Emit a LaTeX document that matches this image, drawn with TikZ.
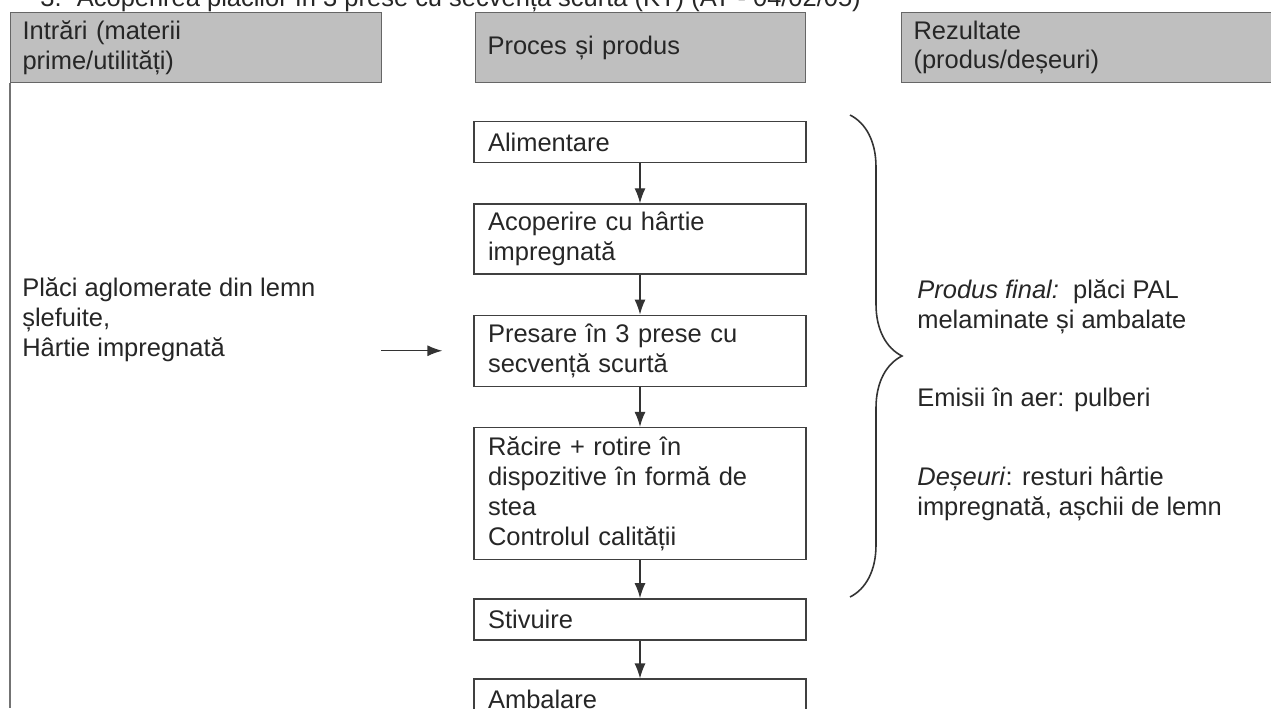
\documentclass[tikz,border=0pt]{standalone}
\usepackage{fontspec}
\setmainfont{Liberation Sans}
\usetikzlibrary{positioning,decorations.pathreplacing,arrows.meta}

\begin{document}
\begin{tikzpicture}[x=0.02cm,y=-0.02cm,node distance=0.8cm,
      every node/.style={font=\fontsize{14.5}{17}\selectfont,text=black!85},
      header/.style={rectangle,anchor=north west,fill=black!25,draw=black!60,line width=0.6pt,text width=#1,minimum height=1.4cm,inner xsep=0.24cm,inner ysep=0.08cm,align=left},
      process/.style={rectangle,draw=black!75,line width=0.75pt,text width=6.08cm,minimum height=0.82cm,inner xsep=0.28cm,inner ysep=0.1cm,align=left},
      info/.style={anchor=west,align=left,inner sep=0pt},
      arr/.style={line width=0.75pt,black!80,-{Latex[length=0.3cm,width=0.22cm]}},
      bigbrace/.style={decorate,decoration={brace,amplitude=1.04cm},line width=0.9pt,black!80},
      frame/.style={line width=0.6pt,black!55}
      ]
      \useasboundingbox (0,0) rectangle (1271,708);
      \clip (0,0) rectangle (1271,708);
      \node (title) [anchor=base west,inner sep=0pt] at (40,6) {3.\hspace{0.6em}Acoperirea plăcilor în 3 prese cu secvență scurtă (KT) (AT - 04/02/05)};
      \node (hin)   [header=6.94cm] at (10,12)  {Intrări (materii\\prime/utilități)};
      \node (hproc) [header=6.12cm] at (475,12) {Proces și produs};
      \node (hrez)  [header=7cm]    at (901,12) {Rezultate\\(produs/deșeuri)};
      \draw[frame] (hin.south west) -- (hin.south west |- 0,708);
      \node (alim)   [process,anchor=north] at (640,121) {Alimentare};
      \node (acop)   [process,below=of alim,minimum height=1.4cm] {Acoperire cu hârtie\\impregnată};
      \node (pres)   [process,below=of acop,minimum height=1.42cm] {Presare în 3 prese cu\\secvență scurtă};
      \node (racire) [process,below=of pres,minimum height=2.64cm] {Răcire + rotire în\\dispozitive în formă de\\stea\\Controlul calității};
      \node (stiv)   [process,below=0.76cm of racire] {Stivuire};
      \node (amb)    [process,below=0.76cm of stiv] {Ambalare};
      \draw[arr] (alim) -- (acop);
      \draw[arr] (acop) -- (pres);
      \draw[arr] (pres) -- (racire);
      \draw[arr] (racire) -- (stiv);
      \draw[arr] (stiv) -- (amb);
      \node (intrari) [info] at (22,320) {Plăci aglomerate din lemn\\șlefuite,\\Hârtie impregnată};
      \draw[arr] ([xshift=-1.84cm]pres.west) -- ([xshift=-0.62cm]pres.west);
      \coordinate (btop) at (850,115);
      \coordinate (bbot) at (850,597);
      \draw[bigbrace] (btop) -- (bbot);
      \node (produs)  [info] at (917,307) {\textit{Produs final:}\ \ plăci PAL\\melaminate și ambalate};
      \node (emisii)  [info] at (917,400) {Emisii în aer: pulberi};
      \node (deseuri) [info] at (917,494) {\textit{Deșeuri}: resturi hârtie\\impregnată, așchii de lemn};
    \end{tikzpicture}
\end{document}
